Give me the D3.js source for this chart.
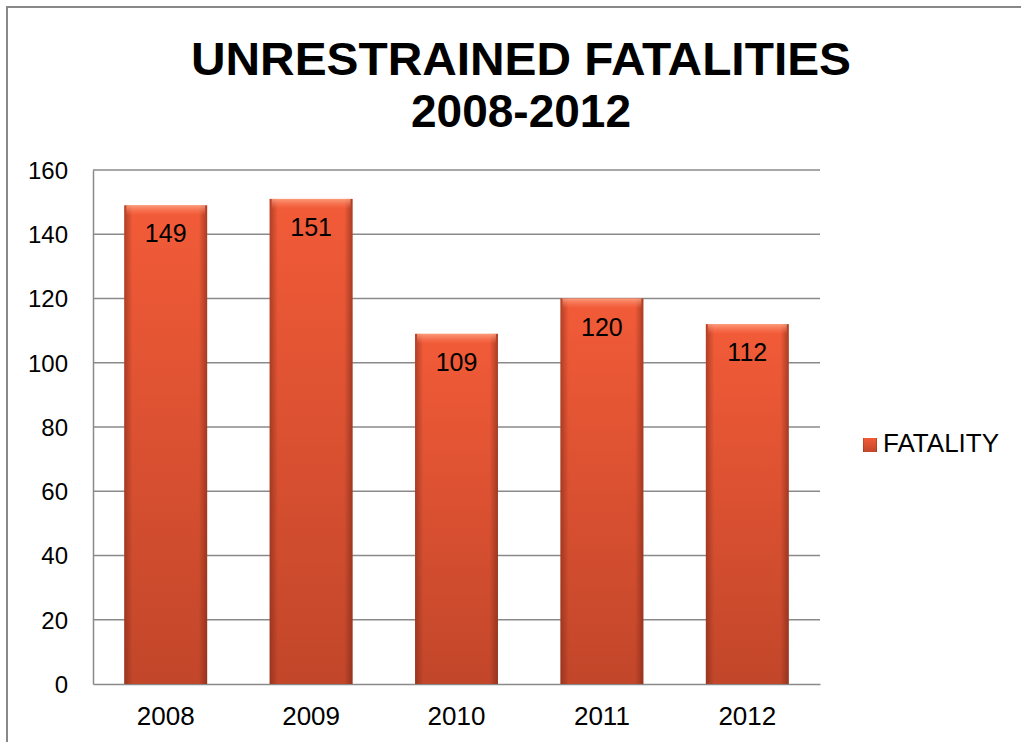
<!DOCTYPE html>
<html><head><meta charset="utf-8">
<script src="https://cdn.jsdelivr.net/npm/d3@7"></script>
<style>body{margin:0;background:#fff;} svg{display:block;}</style>
</head><body>
<svg id="c" width="1021" height="742"></svg>
<script>
const categories = ["2008","2009","2010","2011","2012"];
const values = [149,151,109,120,112];
const yTicks = [0,20,40,60,80,100,120,140,160];
const seriesName = "FATALITY";
const titleLines = ["UNRESTRAINED FATALITIES","2008-2012"];

const svg = d3.select("#c");
const font = "Arial, 'Liberation Sans', sans-serif";
const m = {left:93, right:820, top:170, bottom:684};

// outer frame
svg.append("path").attr("d","M7,742 V7 H1021").attr("fill","none").attr("stroke","#888").attr("stroke-width",2);

const defs = svg.append("defs");
const gV = defs.append("linearGradient").attr("id","gv").attr("x1",0).attr("y1",0).attr("x2",0).attr("y2",1);
gV.append("stop").attr("offset","0%").attr("stop-color","#f25b38");
gV.append("stop").attr("offset","100%").attr("stop-color","#c2462a");
const gH = defs.append("linearGradient").attr("id","gh").attr("x1",0).attr("y1",0).attr("x2",1).attr("y2",0);
gH.append("stop").attr("offset","0%").attr("stop-color","#6e2414").attr("stop-opacity",0.5);
gH.append("stop").attr("offset","10%").attr("stop-color","#6e2414").attr("stop-opacity",0.0);
gH.append("stop").attr("offset","90%").attr("stop-color","#6e2414").attr("stop-opacity",0.0);
gH.append("stop").attr("offset","100%").attr("stop-color","#6e2414").attr("stop-opacity",0.55);
const gT = defs.append("linearGradient").attr("id","gt").attr("x1",0).attr("y1",0).attr("x2",0).attr("y2",1);
gT.append("stop").attr("offset","0%").attr("stop-color","#ffb090").attr("stop-opacity",0.75);
gT.append("stop").attr("offset","100%").attr("stop-color","#ff8060").attr("stop-opacity",0);

const x = d3.scaleBand().domain(categories).range([m.left,m.right]).paddingInner(0.43).paddingOuter(0.215);
const y = d3.scaleLinear().domain([0,160]).range([m.bottom,m.top]);

// gridlines
svg.append("g").selectAll("line").data(yTicks.filter(d=>d>0)).join("line")
  .attr("x1",m.left).attr("x2",m.right).attr("y1",d=>y(d)).attr("y2",d=>y(d))
  .attr("stroke","#8a8a8a").attr("stroke-width",1.5);

// axes
const yAxis = svg.append("g").attr("transform",`translate(${m.left},0)`)
  .call(d3.axisLeft(y).tickValues(yTicks).tickSize(0).tickPadding(25));
yAxis.select(".domain").attr("stroke","#8a8a8a").attr("stroke-width",1.5);
yAxis.selectAll("text").attr("font-family",font).attr("font-size",24).attr("fill","#000").attr("dy","0.35em");

const xAxis = svg.append("g").attr("transform",`translate(0,${m.bottom})`)
  .call(d3.axisBottom(x).tickSize(0).tickPadding(23));
xAxis.select(".domain").attr("stroke","#8a8a8a").attr("stroke-width",1.5);
xAxis.selectAll("text").attr("font-family",font).attr("font-size",26).attr("fill","#000");

// bars
const bars = svg.append("g").selectAll("g").data(categories.map((c,i)=>({c,v:values[i]}))).join("g");
bars.append("rect").attr("x",d=>x(d.c)).attr("y",d=>y(d.v)).attr("width",x.bandwidth())
  .attr("height",d=>y(0)-y(d.v)).attr("fill","url(#gv)");
bars.append("rect").attr("x",d=>x(d.c)).attr("y",d=>y(d.v)).attr("width",x.bandwidth())
  .attr("height",d=>y(0)-y(d.v)).attr("fill","url(#gh)");
bars.append("rect").attr("x",d=>x(d.c)+2).attr("y",d=>y(d.v)).attr("width",x.bandwidth()-4)
  .attr("height",10).attr("fill","url(#gt)");
bars.append("text").attr("x",d=>x(d.c)+x.bandwidth()/2).attr("y",d=>y(d.v)+37)
  .attr("text-anchor","middle").attr("font-family",font).attr("font-size",25).attr("fill","#000")
  .text(d=>d.v);

// title
svg.append("text").attr("x",521).attr("y",75).attr("text-anchor","middle")
  .attr("font-family",font).attr("font-weight","bold").attr("font-size",46)
  .attr("textLength",660).attr("lengthAdjust","spacingAndGlyphs").text(titleLines[0]);
svg.append("text").attr("x",521).attr("y",127).attr("text-anchor","middle")
  .attr("font-family",font).attr("font-weight","bold").attr("font-size",46).text(titleLines[1]);

// legend
svg.append("rect").attr("x",863).attr("y",438).attr("width",14).attr("height",14).attr("fill","url(#gv)");
svg.append("rect").attr("x",863).attr("y",438).attr("width",14).attr("height",14).attr("fill","url(#gh)");
svg.append("text").attr("x",883).attr("y",452).attr("font-family",font).attr("font-size",26).text(seriesName);
</script>
</body></html>
